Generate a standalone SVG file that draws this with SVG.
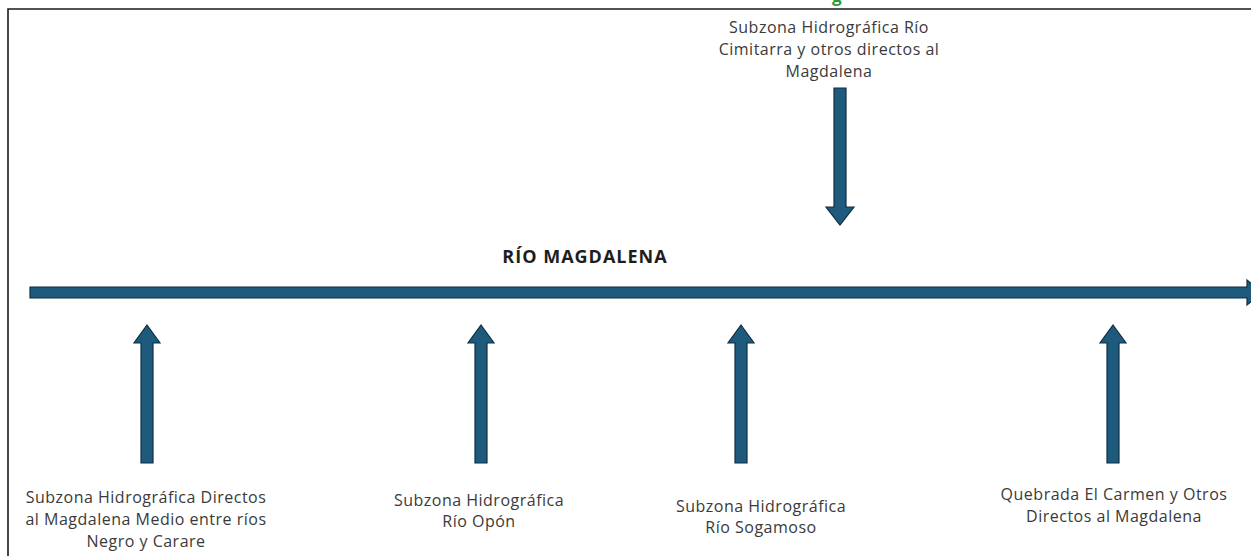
<svg xmlns="http://www.w3.org/2000/svg" width="1251" height="556" viewBox="0 0 1251 556">
  <defs>
    <style>
      .lbl { font-family: "Open Sans", "Noto Sans", "Liberation Sans", sans-serif; font-size: 16px; letter-spacing: 0.5px; fill: #3a3a3a; text-anchor: middle; }
      .title { font-family: "Open Sans", "Noto Sans", "Liberation Sans", sans-serif; font-size: 18px; letter-spacing: 1px; font-weight: bold; fill: #1e1e1e; text-anchor: middle; }
      .head { font-family: "Open Sans", "Noto Sans", "Liberation Sans", sans-serif; font-size: 17px; font-weight: bold; fill: #2e9a3a; }
      .arrow { fill: #1d5a7c; stroke: #0f2f44; stroke-width: 1.2; stroke-linejoin: miter; }
      .frame { fill: none; stroke: #1a1a1a; stroke-width: 1.6; }
    </style>
    <!-- vertical block arrow pointing up, tip at origin -->
    <path id="upArrow" d="M0,0 L13,18 L6,18 L6,138 L-6,138 L-6,18 L-13,18 Z"/>
  </defs>

  <rect width="1251" height="556" fill="#ffffff"/>

  <!-- page frame -->
  <path class="frame" d="M8,556 L8,9 L1251,9"/>

  <!-- heading running off the top edge -->
  <text class="head" x="832" y="2">g</text>

  <!-- river axis -->
  <g id="rio-magdalena">
    <path class="arrow" d="M30,287 L1247,287 L1247,280 L1262,292.5 L1247,305 L1247,298 L30,298 Z"/>
    <text class="title" x="585" y="263">RÍO MAGDALENA</text>
  </g>

  <!-- tributary connectors -->
  <g id="connectors">
    <use href="#upArrow" class="arrow" x="147" y="325"/>
    <use href="#upArrow" class="arrow" x="481" y="325"/>
    <use href="#upArrow" class="arrow" x="741" y="325"/>
    <use href="#upArrow" class="arrow" x="1113" y="325"/>
    <path class="arrow" d="M834,88 L846,88 L846,207 L854,207 L840,225 L826,207 L834,207 Z"/>
  </g>

  <g id="cimitarra">
    <text class="lbl" x="829" y="33">Subzona Hidrográfica Río</text>
    <text class="lbl" x="829" y="55">Cimitarra y otros directos al</text>
    <text class="lbl" x="829" y="77">Magdalena</text>
  </g>

  <g id="directos-medio">
    <text class="lbl" x="146" y="503">Subzona Hidrográfica Directos</text>
    <text class="lbl" x="146" y="525">al Magdalena Medio entre ríos</text>
    <text class="lbl" x="146" y="547">Negro y Carare</text>
  </g>

  <g id="opon">
    <text class="lbl" x="479" y="506">Subzona Hidrográfica</text>
    <text class="lbl" x="479" y="527">Río Opón</text>
  </g>

  <g id="sogamoso">
    <text class="lbl" x="761" y="512">Subzona Hidrográfica</text>
    <text class="lbl" x="761" y="533">Río Sogamoso</text>
  </g>

  <g id="carmen">
    <text class="lbl" x="1114" y="500">Quebrada El Carmen y Otros</text>
    <text class="lbl" x="1114" y="522">Directos al Magdalena</text>
  </g>
</svg>
